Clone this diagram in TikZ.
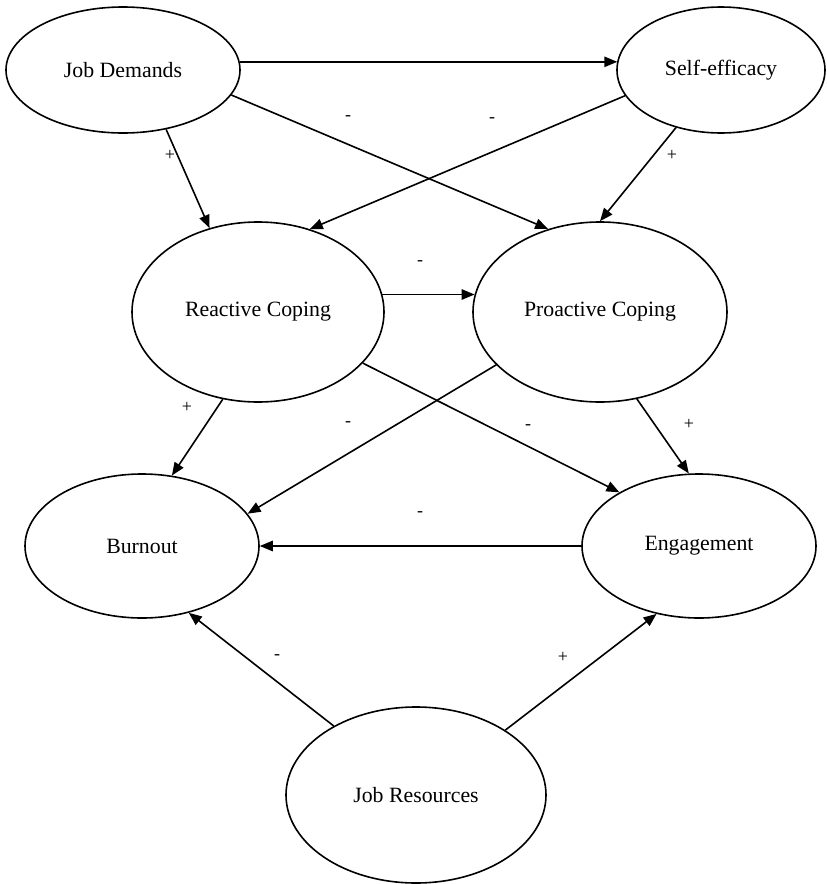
\documentclass[tikz,border=0pt]{standalone}
\usepackage{fontspec}
\setmainfont{Liberation Serif}
\usetikzlibrary{shapes.geometric,arrows.meta}
\begin{document}
\begin{tikzpicture}[x=0.5pt,y=-0.5pt,
  latent/.style={ellipse,draw,line width=0.8pt,inner sep=0pt,font=\fontsize{10.9}{13}\selectfont},
  pathway/.style={line width=0.8pt,-{Triangle[length=6.5pt,width=5.2pt]}},
  sign/.style={font=\fontsize{9}{10}\selectfont,inner sep=0pt}]
\useasboundingbox (0,0) rectangle (826,884);
\node[latent,minimum width=117pt,minimum height=63pt] (jd) at (123,70) {Job Demands};
\node[latent,minimum width=104pt,minimum height=63pt] (se) at (721,70) {Self-efficacy};
\node[latent,minimum width=126pt,minimum height=90pt] (rc) at (258,312) {Reactive Coping};
\node[latent,minimum width=127pt,minimum height=90pt] (pc) at (600,312) {Proactive Coping};
\node[latent,minimum width=117pt,minimum height=72pt] (bo) at (142,546) {Burnout};
\node[latent,minimum width=117pt,minimum height=72pt] (en) at (699,546) {Engagement};
\node[latent,minimum width=130pt,minimum height=88pt] (jr) at (416,795) {Job Resources};

\draw[pathway] (jd.4.6) -- (se.175 |- jd.4.6);
\draw[pathway] (jd.-54.5) -- (rc.120.5);
\draw[pathway] (jd.-13.5) -- (pc.122.6);
\draw[pathway] (se.195.1) -- (rc.58.3);
\draw[pathway] (se.232.1) -- (pc.90);
\draw[pathway] (rc.8) -- (pc.172 |- rc.8);
\draw[pathway] (rc.248.7) -- (bo.67.9);
\draw[pathway] (pc.207) -- (bo.17.9);
\draw[pathway] (rc.-26.8) -- (en.146.6);
\draw[pathway] (pc.-67.6) -- (en.98.6);
\draw[pathway] (en.180) -- (bo.0);
\draw[pathway] (jr.140.5) -- (bo.-55.9);
\draw[pathway] (jr.36.7) -- (en.-122.8);

\node[sign] (s1) at (170,155) {+};
\node[sign] (s2) at (348,118) {-};
\node[sign] (s3) at (492,120) {-};
\node[sign] (s4) at (672,155) {+};
\node[sign] (s5) at (420,263) {-};
\node[sign] (s6) at (187,407) {+};
\node[sign] (s7) at (348,424) {-};
\node[sign] (s8) at (528,427) {-};
\node[sign] (s9) at (689,424) {+};
\node[sign] (s10) at (420,514) {-};
\node[sign] (s11) at (277,657) {-};
\node[sign] (s12) at (563,657) {+};
\end{tikzpicture}
\end{document}
